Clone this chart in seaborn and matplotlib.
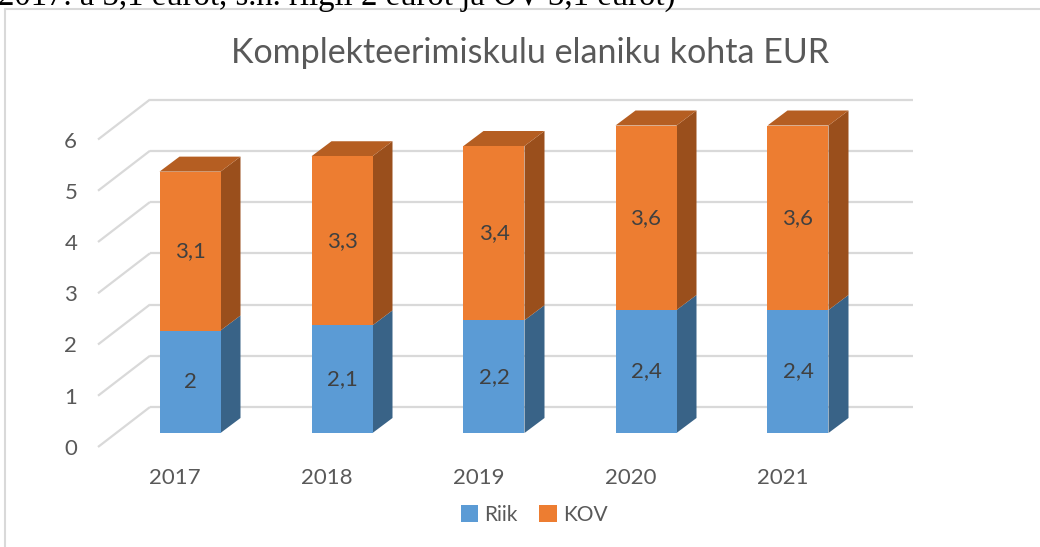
import numpy as np
import pandas as pd
import seaborn as sns
import matplotlib
matplotlib.use("Agg")
import matplotlib.pyplot as plt
from matplotlib.patches import Polygon, Patch
from matplotlib.lines import Line2D

# ---- data ----
years = ["2017", "2018", "2019", "2020", "2021"]
riik = [2, 2.1, 2.2, 2.4, 2.4]
kov = [3.1, 3.3, 3.4, 3.6, 3.6]
yticks = [0, 1, 2, 3, 4, 5, 6]
title = "Komplekteerimiskulu elaniku kohta EUR"
top_note = "2017. a 3,1 eurot, s.h. riigil 2 eurot ja OV 3,1 eurot)"

sns.set_theme(style="white")
plt.rcParams['font.family'] = ['Lato', 'DejaVu Sans']

BLUE, ORANGE = "#5B9BD5", "#ED7D31"
BLUE_SIDE, ORANGE_SIDE, ORANGE_TOP = "#396387", "#9A4F1C", "#B55E22"
GRID = "#D9D9D9"
TXT = "#595959"
LBL = "#404040"

W, H = 1040, 547
fig = plt.figure(figsize=(W / 100, H / 100), dpi=100)
fig.patch.set_facecolor("white")

# plotting region in pixels
px0, px1, py_bot, py_top = 80, 940, 460, 80
ax = fig.add_axes([px0 / W, 1 - py_bot / H, (px1 - px0) / W, (py_bot - py_top) / H])

# pixel scales
XC0, XSTEP = 190.0, 152.0      # bar centre of first category, spacing
Y0, YSTEP = 433.0, 51.25       # baseline of bar front plane, px per unit
def dx(p): return p / XSTEP
def dy(p): return p / YSTEP

df = pd.DataFrame({"year": years, "Riik": riik, "KOV": kov})
df["total"] = df["Riik"] + df["KOV"]

bw = 61 / 152
sns.barplot(data=df, x="year", y="total", color=ORANGE, saturation=1,
            width=bw, ax=ax, zorder=3, linewidth=0)
sns.barplot(data=df, x="year", y="Riik", color=BLUE, saturation=1,
            width=bw, ax=ax, zorder=3, linewidth=0)

ax.set_xlim((px0 - XC0) / XSTEP, (px1 - XC0) / XSTEP)
ax.set_ylim((Y0 - py_bot) / YSTEP, (Y0 - py_top) / YSTEP)

# 3-D extrusion of bars
ddx, ddy = dx(20), dy(15)
patches = ax.patches
n = len(years)
for i in range(n):
    tot = patches[i]
    r = patches[n + i]
    x, w = r.get_x(), r.get_width()
    rv = r.get_height()
    tv = tot.get_height()
    ax.add_patch(Polygon([(x + w, 0), (x + w + ddx, ddy), (x + w + ddx, rv + ddy), (x + w, rv)],
                         closed=True, facecolor=BLUE_SIDE, edgecolor="none", zorder=2.9))
    ax.add_patch(Polygon([(x + w, rv), (x + w + ddx, rv + ddy), (x + w + ddx, tv + ddy), (x + w, tv)],
                         closed=True, facecolor=ORANGE_SIDE, edgecolor="none", zorder=2.9))
    ax.add_patch(Polygon([(x, tv), (x + ddx, tv + ddy), (x + w + ddx, tv + ddy), (x + w, tv)],
                         closed=True, facecolor=ORANGE_TOP, edgecolor="none", zorder=2.9))
    cx = x + w / 2
    ax.text(cx, rv / 2, f"{riik[i]:g}".replace(".", ","), ha="center", va="center",
            fontsize=16, color=LBL, zorder=5)
    ax.text(cx, rv + (tv - rv) / 2, f"{kov[i]:g}".replace(".", ","), ha="center", va="center",
            fontsize=16, color=LBL, zorder=5)

# walls: back gridlines and floor diagonals
wall_x = dx(116 - XC0)
fx, fy = wall_x - dx(18), -dy(14)
bx, by = wall_x + dx(34), dy(26)
xend = dx(913 - XC0)
for v in yticks:
    ax.add_line(Line2D([fx, bx], [v + fy, v + by], color=GRID, lw=1.6, zorder=1,
                       solid_capstyle="butt"))
    ax.add_line(Line2D([bx, xend], [v + by, v + by], color=GRID, lw=1.6, zorder=1,
                       solid_capstyle="butt"))

# ticks (labels on front plane)
ax.set_yticks([v + fy for v in yticks])
ax.set_yticklabels([str(v) for v in yticks])
ax.set_xticks([i - dx(15) for i in range(n)])
ax.set_xticklabels(years)
ax.tick_params(axis="both", length=0, labelsize=16, labelcolor=TXT)
ax.tick_params(axis="y", pad=2)
ax.tick_params(axis="x", pad=6)
ax.set_xlabel("")
ax.set_ylabel("")
for s in ax.spines.values():
    s.set_visible(False)
ax.set_facecolor("none")

# title, fitted to the reference width
t = fig.text(530 / W, 1 - 53 / H, title, ha="center", va="center", fontsize=22, color=TXT)

# partially visible document text above the chart (cut by the page edge, as in the reference)
note = fig.text(-2 / W, 1 - 5 / H, top_note, ha="left", va="baseline", fontsize=20,
                family=["Liberation Serif", "DejaVu Serif"], color="black")

fig.canvas.draw()
bb = t.get_window_extent()
t.set_fontsize(22 * 596 / bb.width)
nb = note.get_window_extent()
note.set_fontsize(20 * 677 / nb.width)

# legend
handles = [Patch(facecolor=BLUE, edgecolor="none", label="Riik"),
           Patch(facecolor=ORANGE, edgecolor="none", label="KOV")]
leg = fig.legend(handles=handles, loc="center", bbox_to_anchor=(534 / W, 1 - 515 / H), ncol=2,
                 frameon=False, fontsize=15, handlelength=0.85, handleheight=0.85,
                 handletextpad=0.3, columnspacing=1.0)
for txt in leg.get_texts():
    txt.set_color(TXT)

# chart frame
fig.add_artist(Line2D([5 / W, 5 / W], [0, 1 - 9 / H], transform=fig.transFigure, color=GRID, lw=1.5))
fig.add_artist(Line2D([5 / W, 1], [1 - 9 / H, 1 - 9 / H], transform=fig.transFigure, color=GRID, lw=1.5))

fig.savefig("out.png", dpi=100)
